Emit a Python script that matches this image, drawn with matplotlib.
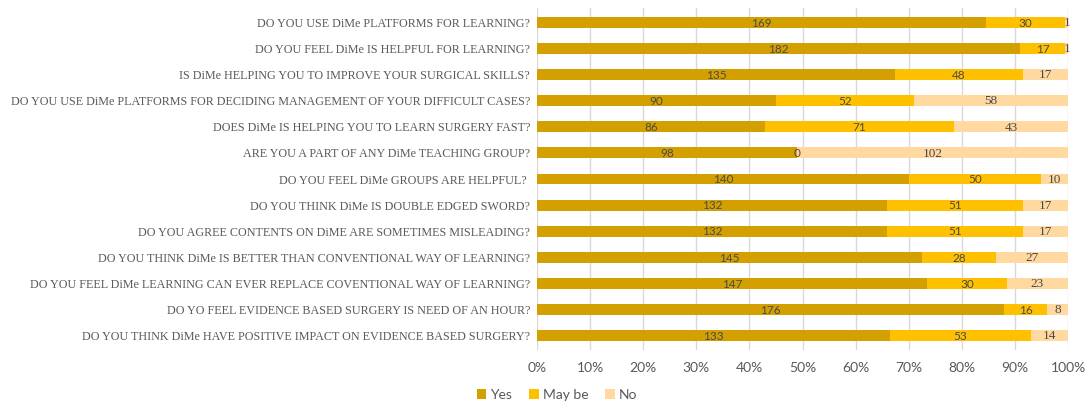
import matplotlib
matplotlib.use("Agg")
import matplotlib.pyplot as plt
import numpy as np

questions = [
    "DO YOU USE DiMe PLATFORMS FOR LEARNING?",
    "DO YOU FEEL DiMe IS HELPFUL FOR LEARNING?",
    "IS DiMe HELPING YOU TO IMPROVE YOUR SURGICAL SKILLS?",
    "DO YOU USE DiMe PLATFORMS FOR DECIDING MANAGEMENT OF YOUR DIFFICULT CASES?",
    "DOES DiMe IS HELPING YOU TO LEARN SURGERY FAST?",
    "ARE YOU A PART OF ANY DiMe TEACHING GROUP?",
    "DO YOU FEEL DiMe GROUPS ARE HELPFUL? ",
    "DO YOU THINK DiMe IS DOUBLE EDGED SWORD?",
    "DO YOU AGREE CONTENTS ON DiME ARE SOMETIMES MISLEADING?",
    "DO YOU THINK DiMe IS BETTER THAN CONVENTIONAL WAY OF LEARNING?",
    "DO YOU FEEL DiMe LEARNING CAN EVER REPLACE COVENTIONAL WAY OF LEARNING?",
    "DO YO FEEL EVIDENCE BASED SURGERY IS NEED OF AN HOUR?",
    "DO YOU THINK DiMe HAVE POSITIVE IMPACT ON EVIDENCE BASED SURGERY?",
]
yes = [169, 182, 135, 90, 86, 98, 140, 132, 132, 145, 147, 176, 133]
maybe = [30, 17, 48, 52, 71, 0, 50, 51, 51, 28, 30, 16, 53]
no = [1, 1, 17, 58, 43, 102, 10, 17, 17, 27, 23, 8, 14]
series_names = ["Yes", "May be", "No"]
colors = ["#D4A000", "#FFC000", "#FFD9A0"]
xticks = [0, 10, 20, 30, 40, 50, 60, 70, 80, 90, 100]

fig = plt.figure(figsize=(10.89, 4.03), dpi=100)
ax = fig.add_axes([537/1089, 53/403, (1068-537)/1089, 342/403])

data = np.array([yes, maybe, no], dtype=float)
totals = data.sum(axis=0)
pct = data / totals * 100
y = np.arange(len(questions))
left = np.zeros(len(questions))
label_fonts = ["Lato", "Lato", "Liberation Serif"]
label_sizes = [8.5, 8.5, 9.5]
for i in range(3):
    ax.barh(y, pct[i], left=left, height=0.42, color=colors[i],
            label=series_names[i], zorder=3)
    for j in range(len(questions)):
        cx = left[j] + pct[i][j] / 2
        ax.text(cx, y[j] + 0.03, f"{int(data[i][j])}", ha="center", va="center",
                fontsize=label_sizes[i], color="#4a4a4a", family=label_fonts[i], zorder=4)
    left += pct[i]

ax.set_ylim(len(questions) - 0.45, -0.55)
ax.set_xlim(0, 100)
ax.set_yticks(y)
ax.set_yticklabels(questions, family="Liberation Serif", fontsize=8.7, color="#595959")
ax.set_xticks(xticks)
ax.set_xticklabels([f"{t}%" for t in xticks], family="Lato", fontsize=10, color="#595959")
ax.tick_params(axis="y", length=0, pad=5)
ax.tick_params(axis="x", length=0, pad=9)
ax.grid(axis="x", color="#D9D9D9", lw=1, zorder=0)
for s in ax.spines.values():
    s.set_visible(False)

handles, labels = ax.get_legend_handles_labels()
fig.legend(handles, labels, loc="center", bbox_to_anchor=(557/1089, 1 - 395/403),
           ncol=3, frameon=False, prop={"family": "Lato", "size": 10},
           handlelength=0.7, handleheight=0.7, handletextpad=0.3, columnspacing=1.2,
           labelcolor="#595959")

fig.savefig("out.png", dpi=100)
